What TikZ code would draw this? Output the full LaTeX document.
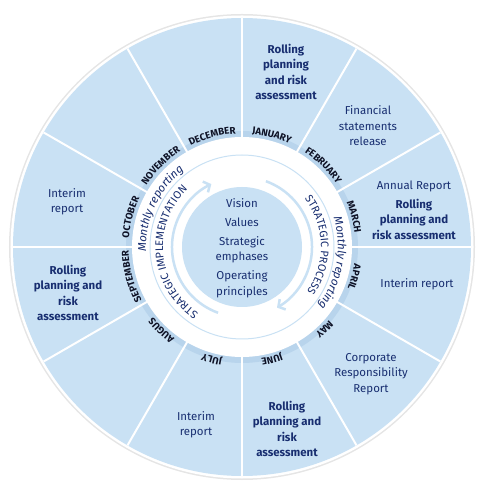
\documentclass[tikz,border=0pt]{standalone}
\usepackage{fontspec}
\setmainfont{Fira Sans}
\usetikzlibrary{decorations.text,arrows.meta}
\definecolor{wheel}{RGB}{201,225,244}
\definecolor{rim}{RGB}{184,212,236}
\definecolor{navy}{RGB}{24,46,112}
\definecolor{ink}{RGB}{14,18,38}
\newcommand{\monthfont}{\fontsize{9.8}{9.8}\selectfont\bfseries}
\tikzset{
  mon/.style={decorate,decoration={text along path,text align=center,text color=ink,text={|\monthfont|#1}}},
  ring/.style={decorate,decoration={text along path,text align=center,text color=navy,text={|\fontsize{11}{11}\selectfont|#1}}},
  ringit/.style={decorate,decoration={text along path,text align=center,text color=navy,text={|\fontsize{11.5}{11.5}\selectfont\itshape|#1}}}
}
\begin{document}
\begin{tikzpicture}[x=1bp,y=1bp,font=\fontsize{11.5}{15.5}\selectfont]
\tikzstyle{lbl}=[align=center,inner sep=0pt,text=navy]
\tikzstyle{bld}=[lbl,font=\fontsize{11.5}{15.5}\selectfont\bfseries]
\useasboundingbox (-242,-247) rectangle (242,247);
\fill[black!10] (0,0) circle (233);
\fill[white] (0,0) circle (231.5);
\fill[wheel] (0,0) circle (229);
\fill[rim] (0,0) circle (116);
\foreach \a in {0,30,...,330}
  \draw[white,line width=2] (\a:105) -- (\a:229);
\fill[white] (0,0) circle (110);
\draw[wheel,line width=1] (0,0) circle (92);
\fill[wheel] (0,0) circle (60);
\draw[wheel,line width=2.5,-{Straight Barb[length=5,width=12]}] (250:70) arc[start angle=250,end angle=116,radius=70];
\draw[wheel,line width=2.5,-{Straight Barb[length=5,width=12]}] (70:70) arc[start angle=70,end angle=-60,radius=70];
\foreach \m/\a in {JANUARY/75,FEBRUARY/45,MARCH/15,APRIL/-15,MAY/-45,JUNE/-75,JULY/-105,AUGUS/-134,SEPTEMBER/-165,OCTOBER/165,NOVEMBER/135,DECEMBER/105}
  \path[mon/.expanded=\m] ({\a+25}:113.5) arc[start angle=\a+25,end angle=\a-25,radius=113.5];
\path[ringit=Monthly reporting] (210:96) arc[start angle=210,end angle=100,radius=96];
\path[ringit=Monthly reporting] (45:96) arc[start angle=45,end angle=-65,radius=96];
\path[ring=STRATEGIC IMPLEMENTATION] (260:79) arc[start angle=260,end angle=110,radius=79];
\path[ring=STRATEGIC PROCESS] (70:79) arc[start angle=70,end angle=-67,radius=79];
\node[lbl] (core) at (0,-1) {Vision\\[3.5bp]Values\\[3.5bp]Strategic\\emphases\\[3.5bp]Operating\\principles};
\node[bld] (jan) at (44,175) {Rolling\\planning\\and risk\\assessment};
\node[lbl] (feb) at (126,121) {Financial\\statements\\release};
\node[lbl] (mar) at (172,37) {Annual Report\\[3.5bp]\textbf{Rolling}\\\textbf{planning and}\\\textbf{risk assessment}};
\node[lbl] (apr) at (175,-37) {Interim report};
\node[lbl] (may) at (129,-127) {Corporate\\Responsibility\\Report};
\node[bld] (jun) at (45,-182) {Rolling\\planning and\\risk\\assessment};
\node[lbl] (jul) at (-46,-178) {Interim\\report};
\node[bld] (sep) at (-174,-46) {Rolling\\planning and\\risk\\assessment};
\node[lbl] (oct) at (-175,45) {Interim\\report};
\end{tikzpicture}
\end{document}
